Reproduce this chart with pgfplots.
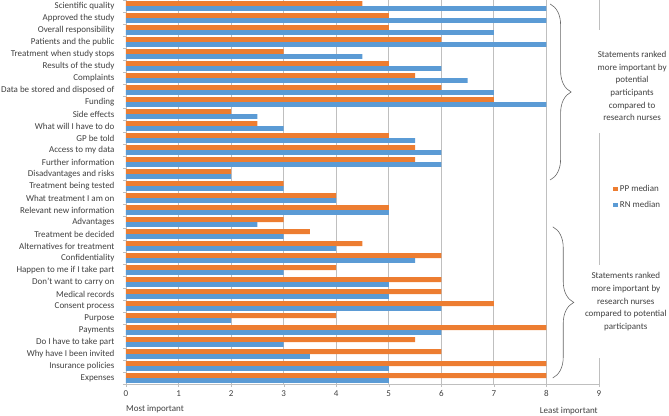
\documentclass[border=0pt]{standalone}
\usepackage{pgfplots}
\pgfplotsset{compat=1.18}
\usepackage{pgfplotstable}
\usepackage{fontspec}
\setmainfont{Carlito}
\usetikzlibrary{decorations.pathreplacing}
\definecolor{pporange}{HTML}{ED7D31}
\definecolor{rnblue}{HTML}{5B9BD5}
\definecolor{gridgray}{HTML}{BFBFBF}
\definecolor{txt}{HTML}{404040}

\pgfplotstableread{
idx pp rn
0 4.5 8
1 5 8
2 5 7
3 6 8
4 3 4.5
5 5 6
6 5.5 6.5
7 6 7
8 7 8
9 2 2.5
10 2.5 3
11 5 5.5
12 5.5 6
13 5.5 6
14 2 2
15 3 3
16 4 4
17 5 5
18 3 2.5
19 3.5 3
20 4.5 4
21 6 5.5
22 4 3
23 6 5
24 6 5
25 7 6
26 4 2
27 8 6
28 5.5 3
29 6 3.5
30 8 5
31 8 5
}\datatable

\newcommand{\fs}{\fontsize{9}{12.6}\selectfont}

\begin{document}
\begin{tikzpicture}
\useasboundingbox (-126pt,-31pt) rectangle (543pt,384pt);
\begin{axis}[
  at={(0pt,0pt)}, anchor=south west,
  scale only axis, width=473pt, height=384pt,
  xbar, bar width=0.4,
  y dir=reverse,
  clip=false,
  xmin=0, xmax=9, ymin=-0.5, ymax=31.5,
  xtick={0,...,9},
  ytick={0,...,31},
  yticklabels={Scientific quality, Approved the study, Overall responsibility, Patients and the public, Treatment when study stops, Results of the study, Complaints, Data be stored and disposed of, Funding, Side effects, What will I have to do, GP be told, Access to my data, Further information, Disadvantages and risks, Treatment being tested, What treatment I am on, Relevant new information, Advantages, Treatment be decided, Alternatives for treatment, Confidentiality, Happen to me if I take part, Don't want to carry on, Medical records, Consent process, Purpose, Payments, Do I have to take part, Why have I been invited, Insurance policies, Expenses},
  minor ytick={-0.5,0.5,...,31.5},
  axis x line*=bottom, axis y line*=left,
  axis line style={gridgray,-},
  xmajorgrids, major grid style={gridgray, line width=0.8pt},
  tick align=outside, major tick length=3pt, minor tick length=3pt,
  tick style={gridgray},
  major y tick style={draw=none},
  tick label style={font=\fs, text=txt},
  yticklabel style={xshift=-5pt},
  /pgf/number format/assume math mode=true,
  legend style={at={(1.03,0.487)}, anchor=west, draw=none, fill=none, font=\fs, text=txt, row sep=4pt, inner sep=0pt, cells={anchor=west}},
  legend image code/.code={\fill[#1] (0pt,-2.3pt) rectangle (4.6pt,2.3pt);},
]
\addplot[fill=pporange, draw=none, bar shift=-0.2] table[x=pp, y=idx] {\datatable};
\addplot[fill=rnblue, draw=none, bar shift=0.2] table[x=rn, y=idx] {\datatable};
\legend{PP median, RN median}

\fill[white] (axis cs:8.83,2) rectangle (axis cs:10.4,10.58);
\fill[white] (axis cs:8.83,21.58) rectangle (axis cs:10.4,29.33);
\node[align=center, font=\fs, text=txt, inner sep=0pt] at (axis cs:9.63,6.67) {Statements ranked\\more important by\\potential\\participants\\compared to\\research nurses};
\node[align=center, font=\fs, text=txt, inner sep=0pt] at (axis cs:9.51,24.64) {Statements ranked\\more important by\\research nurses\\compared to potential\\participants};
\draw[black!60, line width=0.6pt, decorate, decoration={brace, amplitude=21pt}] (axis cs:8.07,-0.17) -- (axis cs:8.07,14.5);
\draw[black!60, line width=0.6pt, decorate, decoration={brace, amplitude=21pt}] (axis cs:8.12,18.4) -- (axis cs:8.12,31.0);
\node[anchor=west, font=\fs, text=txt, inner sep=0pt] at (axis cs:0,33.58) {Most important};
\node[anchor=east, font=\fs, text=txt, inner sep=0pt] at (axis cs:8.98,33.75) {Least important};
\end{axis}
\end{tikzpicture}
\end{document}
